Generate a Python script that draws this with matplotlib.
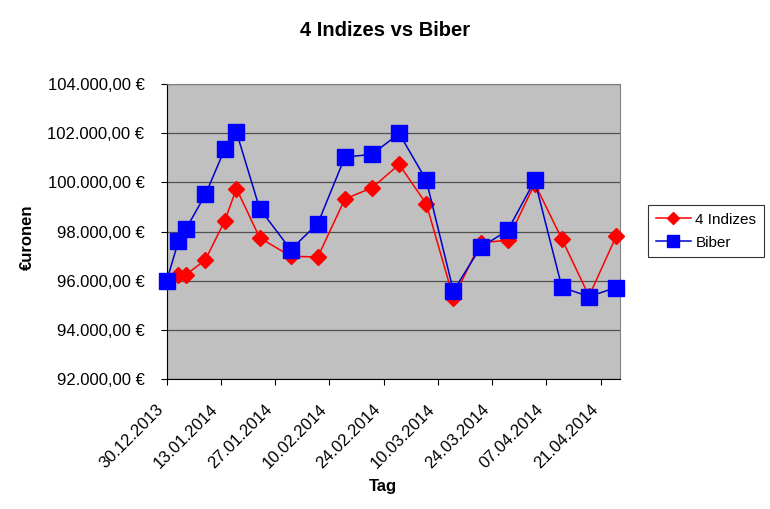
import datetime as dt
import matplotlib
matplotlib.use("Agg")
import matplotlib.pyplot as plt
import matplotlib.dates as mdates
from matplotlib.ticker import FuncFormatter, MultipleLocator

plt.rcParams['font.family'] = ['Liberation Sans', 'DejaVu Sans']

# Daten
tage = ["30.12.2013", "02.01.2014", "04.01.2014", "09.01.2014", "14.01.2014",
        "17.01.2014", "23.01.2014", "31.01.2014", "07.02.2014", "14.02.2014",
        "21.02.2014", "28.02.2014", "07.03.2014", "14.03.2014", "21.03.2014",
        "28.03.2014", "04.04.2014", "11.04.2014", "18.04.2014", "25.04.2014"]
indizes = [96000, 96250, 96250, 96860, 98450, 99750, 97750, 97000, 96970, 99330,
           99780, 100730, 99130, 95300, 97550, 97650, 99950, 97700, 95380, 97810]
biber = [96000, 97600, 98120, 99510, 101360, 102050, 98930, 97270, 98330, 101030,
         101140, 101990, 100090, 95590, 97360, 98050, 100080, 95740, 95360, 95730]

x = [dt.datetime.strptime(t, "%d.%m.%Y") for t in tage]


def euro(v, pos):
    s = "{:,.2f}".format(v)
    s = s.replace(",", "X").replace(".", ",").replace("X", ".")
    return s + " €"


fig = plt.figure(figsize=(7.7, 5.09), dpi=100)
ax = fig.add_axes([0.2165, 0.2548, 0.5887, 0.5802])
ax.set_facecolor("#C0C0C0")

ax.plot(x, indizes, color="#FF0000", lw=1.1, marker="D", ms=8,
        mfc="#FF0000", mec="#FF0000", label="4 Indizes", zorder=3, clip_on=False)
ax.plot(x, biber, color="#0000CC", lw=1.1, marker="s", ms=11,
        mfc="#0000FF", mec="#0000FF", label="Biber", zorder=4, clip_on=False)

ax.set_ylim(92000, 104000)
ax.set_xlim(dt.datetime(2013, 12, 30), dt.datetime(2014, 4, 26))
ax.yaxis.set_major_locator(MultipleLocator(2000))
ax.yaxis.set_major_formatter(FuncFormatter(euro))
ax.set_xticks([dt.datetime(2013, 12, 30) + dt.timedelta(days=14 * i) for i in range(9)])
ax.xaxis.set_major_formatter(mdates.DateFormatter("%d.%m.%Y"))

ax.grid(axis="y", color="#505050", lw=0.9)
ax.set_axisbelow(True)

for side in ["top", "right"]:
    ax.spines[side].set_color("#808080")
for side in ["left", "bottom"]:
    ax.spines[side].set_color("black")

ax.tick_params(axis="y", direction="out", length=4, labelsize=12, pad=12)
ax.tick_params(axis="x", direction="out", length=4, labelsize=12, pad=12)
plt.setp(ax.get_xticklabels(), rotation=45, ha="right", va="top")

fig.text(0.5, 0.94, "4 Indizes vs Biber", ha="center", va="center",
         fontsize=14.5, fontweight="bold")
fig.text(0.035, 0.534, "€uronen", rotation=90, ha="center", va="center",
         fontsize=12, fontweight="bold")
fig.text(0.497, 0.045, "Tag", ha="center", va="center",
         fontsize=12, fontweight="bold")

leg = fig.legend(loc="upper left", bbox_to_anchor=(0.8416, 0.5973),
                 borderaxespad=0, fancybox=False, edgecolor="black",
                 fontsize=11, handlelength=2.3, labelspacing=0.6,
                 borderpad=0.5, handletextpad=0.3, markerscale=0.8)
leg.get_frame().set_linewidth(0.8)

fig.savefig("out.png", dpi=100)
